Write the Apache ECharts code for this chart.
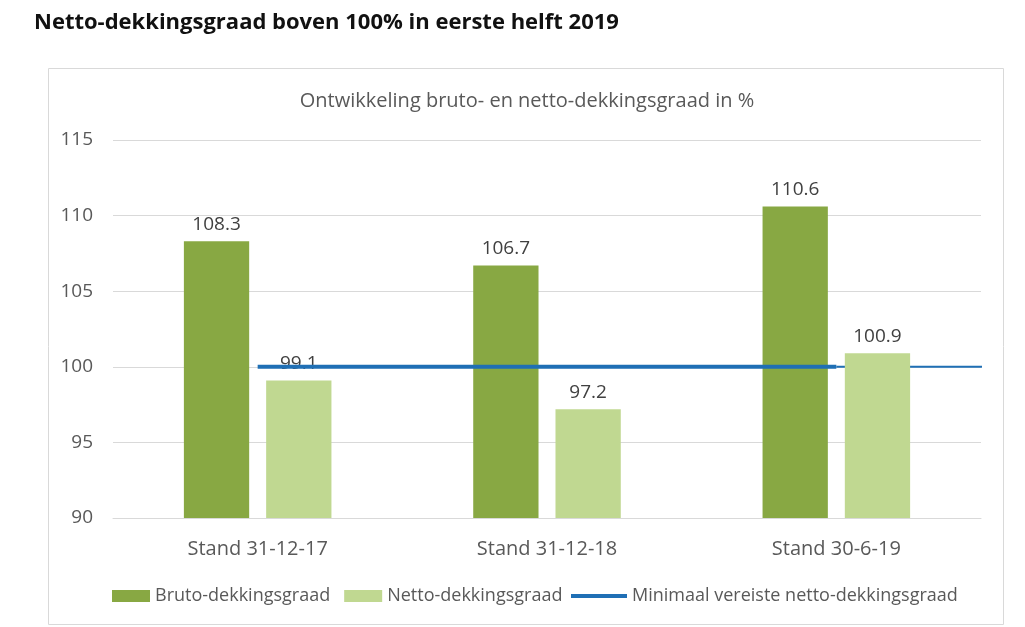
<!DOCTYPE html>
<html>
<head>
<meta charset="utf-8">
<script src="https://cdn.jsdelivr.net/npm/echarts@6/dist/echarts.min.js"></script>
<style>html,body{margin:0;padding:0;background:#fff}#c{width:1025px;height:627px}</style>
</head>
<body>
<div id="c"></div>
<script>
const categories = ['Stand 31-12-17', 'Stand 31-12-18', 'Stand 30-6-19'];
const bruto = [108.3, 106.7, 110.6];
const netto = [99.1, 97.2, 100.9];
const minimaal = [100, 100, 100];
const minimaalTail = [[2.5, 100], [3.025, 100]];
const yTicks = [90, 95, 100, 105, 110, 115];

const chart = echarts.init(document.getElementById('c'));
const txt = '#595959';
const font = '"Open Sans", sans-serif';
const blue = '#1f6fb5';
chart.setOption({
  animation: false,
  textStyle: { fontFamily: font },
  title: [
    { text: 'Netto-dekkingsgraad boven 100% in eerste helft 2019', left: 29, top: 7,
      textStyle: { fontSize: 22, fontWeight: 'bold', color: '#111', fontFamily: font } },
    { text: 'Ontwikkeling bruto- en netto-dekkingsgraad in %', left: 522, textAlign: 'center', top: 86,
      textStyle: { fontSize: 20, fontWeight: 'normal', color: txt, fontFamily: font } }
  ],
  graphic: [{ type: 'rect', shape: { x: 48.5, y: 68.5, width: 955, height: 556 },
    style: { fill: 'none', stroke: '#d9d9d9', lineWidth: 1 }, silent: true, z: -1 }],
  legend: [
    { left: 107, top: 582, itemWidth: 38, itemHeight: 12, itemGap: 14, icon: 'rect',
      textStyle: { fontSize: 18, color: txt, fontFamily: font },
      data: ['Bruto-dekkingsgraad', 'Netto-dekkingsgraad'] },
    { left: 566, top: 582, itemWidth: 56, itemHeight: 4, icon: 'rect',
      textStyle: { fontSize: 18, color: txt, fontFamily: font },
      data: ['Minimaal vereiste netto-dekkingsgraad'] }
  ],
  grid: { left: 113, right: 44, top: 140, bottom: 109 },
  xAxis: [
    { type: 'category', data: categories,
      axisLine: { lineStyle: { color: '#d9d9d9' } }, axisTick: { show: false },
      axisLabel: { color: txt, fontSize: 20, margin: 21 } },
    { type: 'value', min: 0, max: 3, show: false }
  ],
  yAxis: {
    type: 'value', min: yTicks[0], max: yTicks[yTicks.length - 1], interval: 5,
    axisLine: { show: false }, axisTick: { show: false },
    axisLabel: { color: txt, fontSize: 19, margin: 20 },
    splitLine: { lineStyle: { color: '#d9d9d9' } }
  },
  series: [
    { name: 'tail', type: 'line', xAxisIndex: 1, data: minimaalTail, symbol: 'none', clip: false,
      lineStyle: { color: blue, width: 2 }, z: 1, silent: true },
    { name: 'Bruto-dekkingsgraad', type: 'bar', data: bruto, barGap: '26%', barCategoryGap: '49%',
      itemStyle: { color: '#88a843' }, z: 2,
      label: { show: true, position: 'top', distance: 7, color: '#404040', fontSize: 19, formatter: p => p.value.toFixed(1) } },
    { name: 'Netto-dekkingsgraad', type: 'bar', data: netto,
      itemStyle: { color: '#c0d891' }, z: 2,
      label: { show: true, position: 'top', distance: 7, color: '#404040', fontSize: 19, formatter: p => p.value.toFixed(1) } },
    { name: 'Minimaal vereiste netto-dekkingsgraad', type: 'line', data: minimaal, symbol: 'none',
      lineStyle: { color: blue, width: 4 }, itemStyle: { color: blue }, z: 3 }
  ]
});
</script>
</body>
</html>
